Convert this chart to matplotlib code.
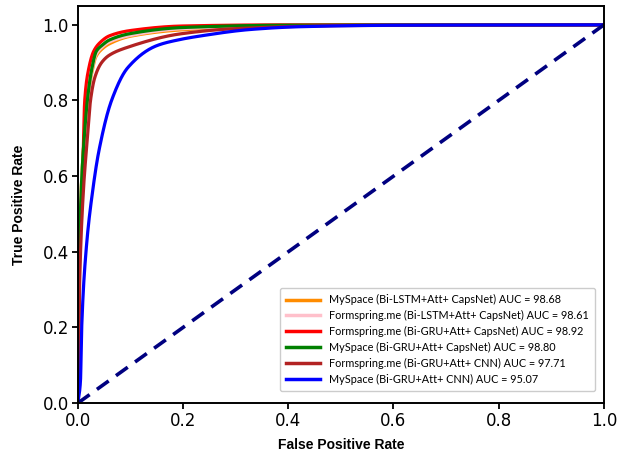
import matplotlib
matplotlib.use("Agg")
from matplotlib import pyplot as plt
import numpy as np

# ROC points (fpr, tpr)
fpr_myspace_lstm = [0, 0.002, 0.006, 0.012, 0.018, 0.026, 0.034, 0.045, 0.06, 0.1, 0.2, 0.4, 1.0]
tpr_myspace_lstm = [0, 0.3, 0.55, 0.7, 0.8, 0.87, 0.915, 0.935, 0.95, 0.97, 0.987, 0.998, 1.0]

fpr_form_lstm = [0, 0.002, 0.006, 0.012, 0.018, 0.026, 0.034, 0.045, 0.06, 0.1, 0.2, 0.4, 1.0]
tpr_form_lstm = [0, 0.3, 0.55, 0.7, 0.8, 0.875, 0.92, 0.94, 0.955, 0.972, 0.99, 0.998, 1.0]

fpr_form_gru = [0, 0.001, 0.004, 0.009, 0.013, 0.02, 0.03, 0.042, 0.06, 0.1, 0.2, 0.4, 1.0]
tpr_form_gru = [0, 0.2, 0.45, 0.6, 0.8, 0.88, 0.93, 0.953, 0.971, 0.985, 0.997, 1.0, 1.0]

fpr_myspace_gru = [0, 0.002, 0.006, 0.012, 0.018, 0.026, 0.035, 0.045, 0.06, 0.1, 0.2, 0.4, 1.0]
tpr_myspace_gru = [0, 0.3, 0.55, 0.7, 0.8, 0.88, 0.93, 0.945, 0.96, 0.977, 0.993, 0.999, 1.0]

fpr_form_cnn = [0, 0.003, 0.01, 0.018, 0.024, 0.032, 0.045, 0.06, 0.093, 0.194, 0.3, 0.5, 1.0]
tpr_form_cnn = [0, 0.3, 0.55, 0.7, 0.8, 0.86, 0.9, 0.92, 0.94, 0.976, 0.99, 0.998, 1.0]

fpr_myspace_cnn = [0, 0.005, 0.007, 0.016, 0.028, 0.04, 0.064, 0.095, 0.15, 0.19, 0.23, 0.33, 0.42, 0.6, 1.0]
tpr_myspace_cnn = [0, 0.06, 0.19, 0.41, 0.56, 0.667, 0.8, 0.887, 0.945, 0.96, 0.97, 0.988, 0.995, 0.999, 1.0]

labels = [
    'MySpace (Bi-LSTM+Att+ CapsNet) AUC = 98.68',
    'Formspring.me (Bi-LSTM+Att+ CapsNet) AUC = 98.61',
    'Formspring.me (Bi-GRU+Att+ CapsNet) AUC = 98.92',
    'MySpace (Bi-GRU+Att+ CapsNet) AUC = 98.80',
    'Formspring.me (Bi-GRU+Att+ CNN) AUC = 97.71',
    'MySpace (Bi-GRU+Att+ CNN) AUC = 95.07',
]
colors = ['darkorange', 'pink', 'red', 'green', 'firebrick', 'blue']

curves = [
    (fpr_myspace_lstm, tpr_myspace_lstm),
    (fpr_form_lstm, tpr_form_lstm),
    (fpr_form_gru, tpr_form_gru),
    (fpr_myspace_gru, tpr_myspace_gru),
    (fpr_form_cnn, tpr_form_cnn),
    (fpr_myspace_cnn, tpr_myspace_cnn),
]


def pchip(x, y, xs):
    # monotone cubic (Fritsch-Carlson) so the curves stay rounded
    x = np.asarray(x, float)
    y = np.asarray(y, float)
    h = np.diff(x)
    d = np.diff(y) / h
    m = np.zeros_like(y)
    for k in range(1, len(x) - 1):
        if d[k - 1] * d[k] > 0:
            w1 = 2 * h[k] + h[k - 1]
            w2 = h[k] + 2 * h[k - 1]
            m[k] = (w1 + w2) / (w1 / d[k - 1] + w2 / d[k])
    m[0] = d[0]
    m[-1] = d[-1]
    idx = np.clip(np.searchsorted(x, xs) - 1, 0, len(h) - 1)
    t = (xs - x[idx]) / h[idx]
    hh = h[idx]
    h00 = 2 * t**3 - 3 * t**2 + 1
    h10 = t**3 - 2 * t**2 + t
    h01 = -2 * t**3 + 3 * t**2
    h11 = t**3 - t**2
    return h00 * y[idx] + h10 * hh * m[idx] + h01 * y[idx + 1] + h11 * hh * m[idx + 1]


fig = plt.figure(figsize=(6.23, 4.57), dpi=100)
ax = fig.add_axes([0.125, 0.118, 0.8443, 0.869])

xs = np.linspace(0, 1, 3000) ** 3
for (x, y), c, lab in zip(curves, colors, labels):
    ax.plot(xs, pchip(x, y, xs), color=c, lw=2.3, label=lab)

ax.plot([0, 1], [0, 1], color='navy', lw=2.6, linestyle='--', dashes=(4, 2.5))

ax.set_xlim(0, 1)
ax.set_ylim(0, 1.05)
ax.set_xticks(np.arange(0, 1.01, 0.2))
ax.set_yticks(np.arange(0, 1.01, 0.2))
ax.tick_params(labelsize=12, width=1.3, length=4, pad=2.5)
for s in ax.spines.values():
    s.set_linewidth(1.4)

ax.set_xlabel('False Positive Rate', fontsize=10, fontweight='bold',
              family='Liberation Sans', labelpad=6)
ax.set_ylabel('True Positive Rate', fontsize=10, fontweight='bold',
              family='Liberation Sans', labelpad=12)

leg = ax.legend(loc='lower right', bbox_to_anchor=(0.993, 0.017),
                prop={'family': 'Lato', 'size': 7.8},
                handlelength=3.2, labelspacing=0.45, borderpad=0.55,
                fancybox=True, framealpha=1)
for line in leg.get_lines():
    line.set_linewidth(2.5)

fig.savefig('out.png', dpi=100)
